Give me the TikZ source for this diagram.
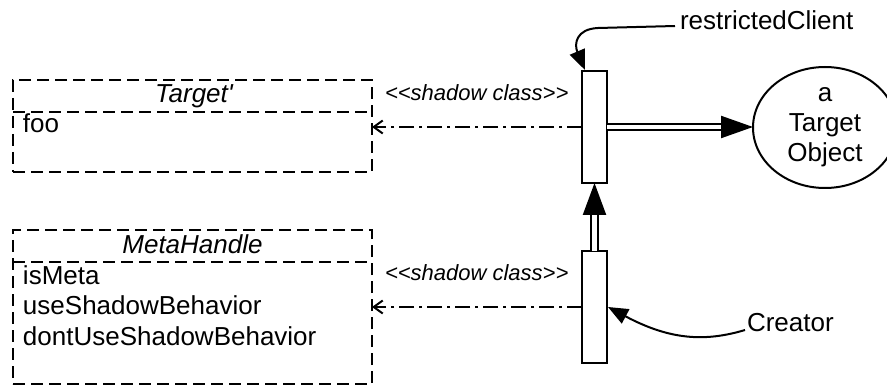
\documentclass[tikz,border=0pt]{standalone}
\usepackage{fontspec}
\setmainfont{Liberation Sans}[Ligatures=TeXOff]
\usetikzlibrary{arrows.meta,shapes.geometric}
\begin{document}
\begin{tikzpicture}[x=1pt,y=-1pt,
  every node/.style={inner sep=0pt, outer sep=0pt},
  txt/.style={font=\fontsize{26}{30}\selectfont},
  titletxt/.style={font=\fontsize{26}{30}\selectfont\itshape},
  stereo/.style={font=\fontsize{22}{25}\selectfont\itshape},
  classline/.style={line width=2pt, dash pattern=on 12pt off 6pt},
  classbox/.style={draw, classline, minimum width=359pt},
  bar/.style={draw, line width=2.2pt, fill=white, minimum width=25pt, minimum height=112pt},
  shadowarrow/.style={line width=2pt, dash pattern=on 15pt off 5pt on 3pt off 5pt, -{Straight Barb[length=9pt,width=13pt]}},
  holder/.style={line width=2.2pt, double distance=3.5pt, -{Triangle[length=32pt,width=22pt]}},
  callout/.style={line width=2pt, -{Triangle[length=20pt,width=16pt]}}
]
\useasboundingbox (0,0) rectangle (887,385);

% class boxes
\node[classbox, minimum height=92pt] (tbox) at (192.5,126) {};
\draw[classline] ([yshift=-32pt]tbox.north west) -- ([yshift=-32pt]tbox.north east);
\node[titletxt, anchor=base] (ttitle) at (194,103) {Target'};
\node[txt, anchor=base west] (foo) at (23,133) {foo};

\node[classbox, minimum height=154pt] (mbox) at (192.5,307) {};
\draw[classline] ([yshift=-32pt]mbox.north west) -- ([yshift=-32pt]mbox.north east);
\node[titletxt, anchor=base] (mtitle) at (192.5,253) {MetaHandle};
\node[txt, anchor=base west] (m1) at (23,284) {isMeta};
\node[txt, anchor=base west] (m2) at (23,314.5) {useShadowBehavior};
\node[txt, anchor=base west] (m3) at (23,345) {dontUseShadowBehavior};

% bars
\node[bar] (bar1) at (594.5,127) {};
\node[bar] (bar2) at (594.5,307) {};

% target object
\node[draw, ellipse, line width=2pt, minimum width=144pt, minimum height=121pt, txt, align=center] (obj) at (825,127.5) {a\\Target\\Object};

% stereotype labels
\node[stereo, anchor=base west] (s1) at (385,100.7) {<<shadow class>>};
\node[stereo, anchor=base west] (s2) at (385,280) {<<shadow class>>};

% shadow arrows
\draw[shadowarrow] (bar1.west) -- (bar1.west -| tbox.east);
\draw[shadowarrow] (bar2.west) -- (bar2.west -| mbox.east);

% double arrows
\draw[holder] (bar1.east) -- (bar1.east -| obj.west);
\draw[holder, double distance=5.5pt, -{Triangle[length=32pt,width=23pt]}] (bar2.north) -- (bar1.south);

% callouts
\node[txt, anchor=base west] (rc) at (680,30) {restrictedClient};
\coordinate (rcstart) at (675,26);
\draw[callout] (rcstart) -- (598,28) .. controls (576,29) and (574,44) .. ([xshift=3pt,yshift=1pt]bar1.north west);

\node[txt, anchor=base west] (cr) at (747,331) {Creator};
\coordinate (crstart) at (745,330);
\draw[callout] (crstart) .. controls (705,342) and (670,340) .. ([xshift=1pt]bar2.east);
\end{tikzpicture}
\end{document}
